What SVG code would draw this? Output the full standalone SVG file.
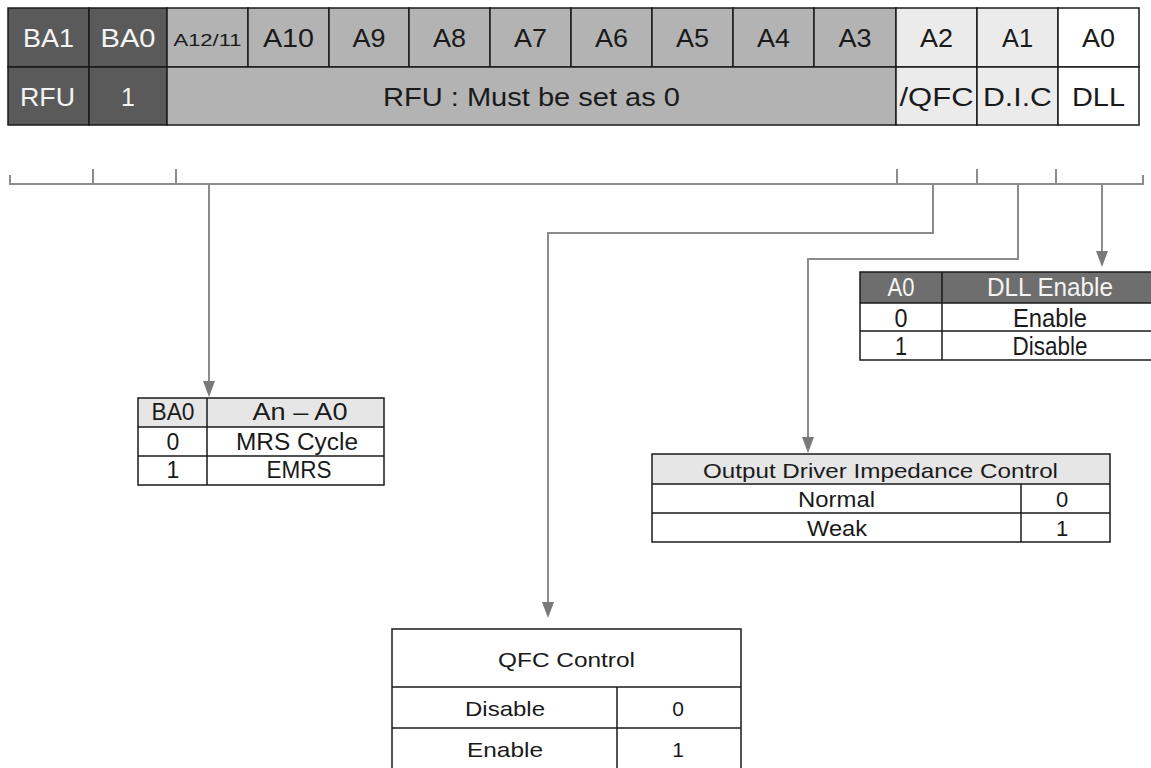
<svg xmlns="http://www.w3.org/2000/svg" width="1151" height="768" viewBox="0 0 1151 768">
<style>
text{font-family:"Liberation Sans",Arial,sans-serif;text-anchor:middle;fill:#1a1a1a}
.big{font-size:25px}
.tb{font-size:23px}
.wt{fill:#f4f4f4}
.dk{fill:#5a5a5a}
.gr{fill:#b3b3b3}
.lt{fill:#ebebeb}
.wh{fill:#ffffff}
.cell{stroke:#1a1a1a;stroke-width:1.5}
.grid{stroke:#1a1a1a;stroke-width:1.5;fill:none}
.con{stroke:#8c8c8c;stroke-width:2;fill:none}
</style>
<defs>
<marker id="arr" viewBox="0 0 16 12" refX="0" refY="6" markerWidth="16" markerHeight="12" markerUnits="userSpaceOnUse" orient="auto">
<path d="M0,0 L16,6 L0,12 z" fill="#7a7a7a"/>
</marker>
</defs>
<rect width="1151" height="768" fill="#ffffff"/>

<g id="register">
<rect class="cell dk" x="8" y="8" width="81" height="59"/>
<rect class="cell dk" x="89" y="8" width="78" height="59"/>
<rect class="cell gr" x="167" y="8" width="81" height="59"/>
<rect class="cell gr" x="248" y="8" width="81" height="59"/>
<rect class="cell gr" x="329" y="8" width="80" height="59"/>
<rect class="cell gr" x="409" y="8" width="81" height="59"/>
<rect class="cell gr" x="490" y="8" width="81" height="59"/>
<rect class="cell gr" x="571" y="8" width="81" height="59"/>
<rect class="cell gr" x="652" y="8" width="81" height="59"/>
<rect class="cell gr" x="733" y="8" width="81" height="59"/>
<rect class="cell gr" x="814" y="8" width="82" height="59"/>
<rect class="cell lt" x="896" y="8" width="81" height="59"/>
<rect class="cell lt" x="977" y="8" width="81" height="59"/>
<rect class="cell wh" x="1058" y="8" width="81" height="59"/>
<rect class="cell dk" x="8" y="67" width="81" height="58"/>
<rect class="cell dk" x="89" y="67" width="78" height="58"/>
<rect class="cell gr" x="167" y="67" width="729" height="58"/>
<rect class="cell lt" x="896" y="67" width="81" height="58"/>
<rect class="cell lt" x="977" y="67" width="81" height="58"/>
<rect class="cell wh" x="1058" y="67" width="81" height="58"/>
<text class="big wt" x="48.5" y="47" textLength="51" lengthAdjust="spacingAndGlyphs">BA1</text>
<text class="big wt" x="128" y="47" textLength="55" lengthAdjust="spacingAndGlyphs">BA0</text>
<text x="207.5" y="46" font-size="17" textLength="68" lengthAdjust="spacingAndGlyphs">A12/11</text>
<text class="big" x="288.5" y="47" textLength="51" lengthAdjust="spacingAndGlyphs">A10</text>
<text class="big" x="369" y="47" textLength="33" lengthAdjust="spacingAndGlyphs">A9</text>
<text class="big" x="449.5" y="47" textLength="33" lengthAdjust="spacingAndGlyphs">A8</text>
<text class="big" x="530.5" y="47" textLength="33" lengthAdjust="spacingAndGlyphs">A7</text>
<text class="big" x="611.5" y="47" textLength="33" lengthAdjust="spacingAndGlyphs">A6</text>
<text class="big" x="692.5" y="47" textLength="33" lengthAdjust="spacingAndGlyphs">A5</text>
<text class="big" x="773.5" y="47" textLength="33" lengthAdjust="spacingAndGlyphs">A4</text>
<text class="big" x="855" y="47" textLength="33" lengthAdjust="spacingAndGlyphs">A3</text>
<text class="big" x="936.5" y="47" textLength="33" lengthAdjust="spacingAndGlyphs">A2</text>
<text class="big" x="1017.5" y="47" textLength="31" lengthAdjust="spacingAndGlyphs">A1</text>
<text class="big" x="1098.5" y="47" textLength="33" lengthAdjust="spacingAndGlyphs">A0</text>
<text class="big wt" x="47.5" y="106" textLength="55" lengthAdjust="spacingAndGlyphs">RFU</text>
<text class="big wt" x="128" y="106">1</text>
<text class="big" x="531.5" y="106" textLength="297" lengthAdjust="spacingAndGlyphs">RFU : Must be set as 0</text>
<text class="big" x="936.5" y="106" textLength="74" lengthAdjust="spacingAndGlyphs">/QFC</text>
<text class="big" x="1017.5" y="106" textLength="69" lengthAdjust="spacingAndGlyphs">D.I.C</text>
<text class="big" x="1098.5" y="106" textLength="53" lengthAdjust="spacingAndGlyphs">DLL</text>
</g>

<g id="connectors">
<path class="con" d="M10,175 V184 H1143 V175"/>
<path class="con" d="M93,169 V184 M176,169 V184 M897,169 V184 M977,169 V184 M1056,169 V184"/>
<path class="con" d="M209,184 V381" marker-end="url(#arr)"/>
<path class="con" d="M933,184 V233 H548 V602" marker-end="url(#arr)"/>
<path class="con" d="M1018,184 V259 H808 V437" marker-end="url(#arr)"/>
<path class="con" d="M1102,184 V251" marker-end="url(#arr)"/>
</g>

<g id="table-dll">
<rect x="860" y="272" width="292" height="31" fill="#6e6e6e"/>
<rect class="grid" x="860" y="272" width="292" height="88"/>
<path class="grid" d="M860,303 H1152 M860,331 H1152 M942,272 V360"/>
<text class="big wt" x="901" y="296" textLength="27" lengthAdjust="spacingAndGlyphs">A0</text>
<text class="big wt" x="1050" y="296" textLength="126" lengthAdjust="spacingAndGlyphs">DLL Enable</text>
<text class="big" x="901" y="327" textLength="13" lengthAdjust="spacingAndGlyphs">0</text>
<text class="big" x="1050" y="327" textLength="74" lengthAdjust="spacingAndGlyphs">Enable</text>
<text class="big" x="901" y="355" textLength="12" lengthAdjust="spacingAndGlyphs">1</text>
<text class="big" x="1050" y="355" textLength="75" lengthAdjust="spacingAndGlyphs">Disable</text>
</g>

<g id="table-ba0">
<rect x="138" y="398" width="246" height="29" fill="#e6e6e6"/>
<rect class="grid" x="138" y="398" width="246" height="87"/>
<path class="grid" d="M138,427 H384 M138,456 H384 M207,398 V485"/>
<text class="tb" x="173" y="420" textLength="43" lengthAdjust="spacingAndGlyphs">BA0</text>
<text class="tb" x="300" y="420" textLength="95" lengthAdjust="spacingAndGlyphs">An – A0</text>
<text class="tb" x="173" y="450">0</text>
<text class="tb" x="297" y="450" textLength="122" lengthAdjust="spacingAndGlyphs">MRS Cycle</text>
<text class="tb" x="173" y="478">1</text>
<text class="tb" x="299" y="478" textLength="65" lengthAdjust="spacingAndGlyphs">EMRS</text>
</g>

<g id="table-odic">
<rect x="652" y="454" width="458" height="30" fill="#e6e6e6"/>
<rect class="grid" x="652" y="454" width="458" height="88"/>
<path class="grid" d="M652,484 H1110 M652,513 H1110 M1021,484 V542"/>
<text x="880.5" y="478" font-size="21" textLength="355" lengthAdjust="spacingAndGlyphs">Output Driver Impedance Control</text>
<text x="836.5" y="507" font-size="22" textLength="77" lengthAdjust="spacingAndGlyphs">Normal</text>
<text x="1062" y="507" font-size="22">0</text>
<text x="837" y="536" font-size="22" textLength="60" lengthAdjust="spacingAndGlyphs">Weak</text>
<text x="1062" y="536" font-size="22">1</text>
</g>

<g id="table-qfc">
<rect x="392" y="629" width="349" height="145" fill="#ffffff" stroke="#1a1a1a" stroke-width="1.5"/>
<path class="grid" d="M392,687 H741 M392,728 H741 M617,687 V774"/>
<text x="566.5" y="667" font-size="21" textLength="137" lengthAdjust="spacingAndGlyphs">QFC Control</text>
<text x="505" y="716" font-size="21" textLength="80" lengthAdjust="spacingAndGlyphs">Disable</text>
<text x="678" y="716" font-size="21">0</text>
<text x="505" y="757" font-size="21" textLength="76" lengthAdjust="spacingAndGlyphs">Enable</text>
<text x="678" y="757" font-size="21">1</text>
</g>
</svg>
